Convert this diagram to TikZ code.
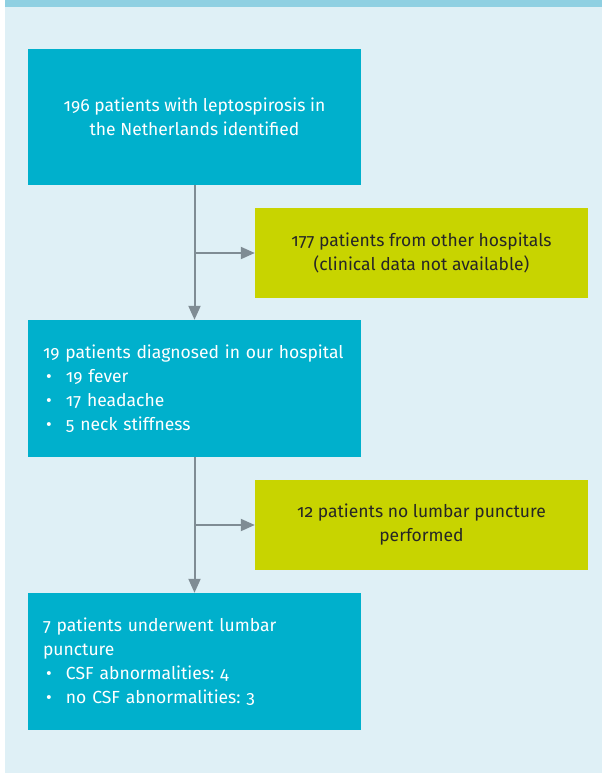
\documentclass[tikz,border=0pt]{standalone}
\usepackage{fontspec}
\setmainfont{Fira Sans}[Numbers=OldStyle]
\usetikzlibrary{arrows.meta}
\definecolor{bgblue}{HTML}{DFF0F6}
\definecolor{barblue}{HTML}{8FD0E2}
\definecolor{boxteal}{HTML}{00B0CC}
\definecolor{boxlime}{HTML}{C8D400}
\definecolor{arrowgray}{HTML}{7F8C94}
\newcommand{\bul}{\hspace*{3pt}\makebox[20pt][l]{•}}
\frenchspacing
\begin{document}
\begin{tikzpicture}[x=1pt,y=-1pt,
  mainbox/.style={fill=boxteal,text=white,minimum width=333pt,minimum height=136pt,inner sep=0pt,font=\fontsize{17.5}{24}\selectfont},
  sidebox/.style={fill=boxlime,text=black!85,minimum width=333pt,minimum height=90pt,inner sep=0pt,align=center,font=\fontsize{17.5}{24}\selectfont},
  flow/.style={draw=arrowgray,line width=2pt,-{Triangle[length=14pt,width=12pt]}}]
\useasboundingbox (0,0) rectangle (602,773);
\fill[white] (0,0) rectangle (602,773);
\fill[bgblue] (5,0) rectangle (602,773);
\fill[barblue] (5,0) rectangle (602,7);
% boxes
\node[mainbox,align=center] (found) at (194.5,117) {196 patients with leptospirosis in\\the Netherlands identified};
\node[sidebox] (other) at (421.5,253) {177 patients from other hospitals\\(clinical data not available)};
\node[mainbox,text width=303pt,align=left,minimum height=137pt] (ours) at (194.5,388.5)
  {\mbox{19 patients diagnosed in our hospital}\\\bul 19 fever\\\bul 17 headache\\\bul 5 neck stiffness};
\node[sidebox] (nolp) at (421.5,525) {12 patients no lumbar puncture\\performed};
\node[mainbox,text width=303pt,align=left,minimum height=137pt] (lp) at (194.5,661.5)
  {7 patients underwent lumbar\\puncture\\\bul CSF abnormalities: 4\\\bul no CSF abnormalities: 3};
% connectors
\coordinate (split1) at (found.south |- other.west);
\coordinate (split2) at (ours.south |- nolp.west);
\draw[flow] (found.south) -- (ours.north);
\draw[flow] (split1) -- (other.west);
\draw[flow] (ours.south) -- (lp.north);
\draw[flow] (split2) -- (nolp.west);
\end{tikzpicture}
\end{document}
